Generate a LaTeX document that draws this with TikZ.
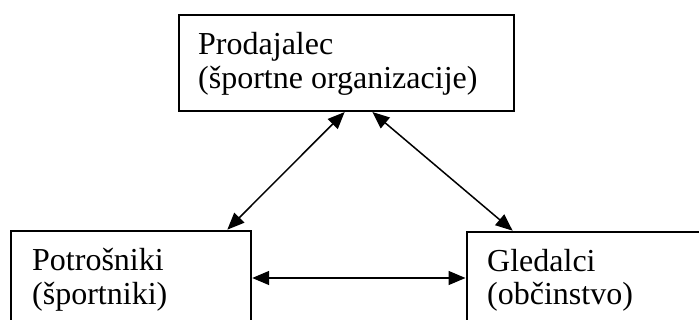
\documentclass[tikz,border=0pt]{standalone}
\usepackage{fontspec}
\setmainfont{Liberation Serif}
\usetikzlibrary{arrows.meta}
\begin{document}
\begin{tikzpicture}[x=1pt,y=-1pt,
  box/.style={draw=black, line width=1.7pt, rectangle, inner sep=0pt, anchor=north west},
  lbl/.style={anchor=base west, inner sep=0pt, font=\fontsize{32}{35}\selectfont},
  link/.style={line width=1.5pt, {Triangle[length=17pt,width=14pt]}-{Triangle[length=17pt,width=14pt]}, shorten <=0.5pt, shorten >=0.5pt}]
\useasboundingbox (0,0) rectangle (699,320);
\clip (0,0) rectangle (699,320);
\fill[white] (0,0) rectangle (699,320);
\node[box, minimum width=335pt, minimum height=96pt] (top) at (178,14) {};
\node[box, minimum width=240pt, minimum height=120pt] (left) at (10,230) {};
\node[box, minimum width=260pt, minimum height=120pt] (right) at (466,231) {};
\node[lbl] (t1) at (198,55) {Prodajalec};
\node[lbl] (t2) at (198,89) {(športne organizacije)};
\node[lbl] (l1) at (32,271) {Potrošniki};
\node[lbl] (l2) at (32,305) {(športniki)};
\node[lbl] (r1) at (487,272) {Gledalci};
\node[lbl] (r2) at (487,305) {(občinstvo)};
\coordinate (tA) at ([xshift=167pt]top.south west);
\coordinate (tB) at ([xshift=194pt]top.south west);
\coordinate (lA) at ([xshift=217pt]left.north west);
\coordinate (rA) at ([xshift=47pt]right.north west);
\coordinate (lB) at ([yshift=-48pt]left.north east);
\coordinate (rB) at ([yshift=-47pt]right.north west);
\draw[link] (tA) -- (lA);
\draw[link] (tB) -- (rA);
\draw[link] (lB) -- (rB);
\end{tikzpicture}
\end{document}
